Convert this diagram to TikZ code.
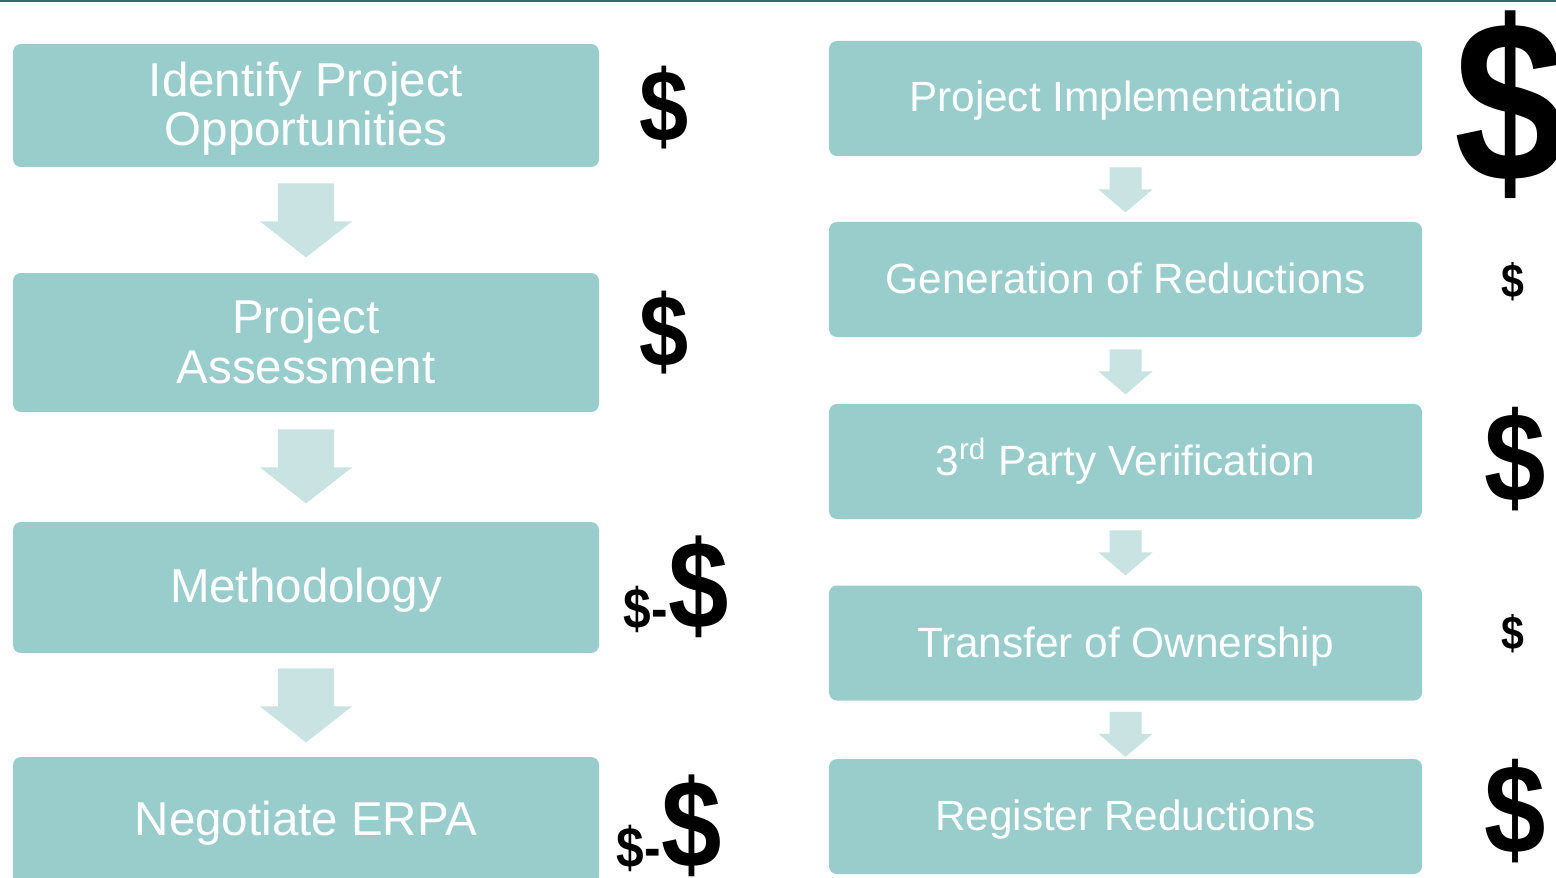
\documentclass[tikz,border=0pt]{standalone}
\usepackage{fontspec}
\setmainfont{Liberation Sans}
\usetikzlibrary{calc}
\definecolor{boxc}{HTML}{99CDCC}
\definecolor{arrc}{HTML}{C8E3E1}
\definecolor{linec}{HTML}{2F6B69}
\newcommand{\narrowdol}[1]{\scalebox{0.87}[1]{#1}}
\begin{document}
\begin{tikzpicture}[x=0.5pt,y=-0.5pt,
 stepbox/.style={fill=boxc, rounded corners=4pt, inner sep=0pt, draw=none},
 lbox/.style={stepbox, minimum width=293pt},
 rbox/.style={stepbox, minimum width=296.5pt, minimum height=57.5pt},
 ltext/.style={text=white, font=\fontsize{23.75}{24.75}\selectfont, align=center, anchor=base, inner sep=0pt},
 rtext/.style={text=white, font=\fontsize{21.15}{24}\selectfont, anchor=base, inner sep=0pt},
 money/.style={font=\bfseries\fontsize{#1}{#1}\selectfont, inner sep=0pt, text=black},
 larrow/.pic={\fill[arrc] (-28,0) -- (28,0) -- (28,38) -- (46,38) -- (0,74) -- (-46,38) -- (-28,38) -- cycle;},
 rarrow/.pic={\fill[arrc] (-16,0) -- (16,0) -- (16,22) -- (27,22) -- (0,45) -- (-27,22) -- (-16,22) -- cycle;},
]
\clip (0,0) rectangle (1556,877);
\fill[white] (0,0) rectangle (1556,877);
\fill[linec] (0,0) rectangle (1556,2);

% left column
\node[lbox, minimum height=61.5pt] (L1) at (306,105.5) {};
\node[lbox, minimum height=69.5pt] (L2) at (306,342.5) {};
\node[lbox, minimum height=65.5pt] (L3) at (306,587.5) {};
\node[lbox, minimum height=70pt] (L4) at (306,827) {};
\node[ltext] (t1) at (306,146) {Identify Project\\Opportunities};
\node[ltext] (t2) at (306,383) {Project\\Assessment};
\node[ltext] (t3) at (306,602) {Methodology};
\node[ltext] (t4) at (306,835) {Negotiate ERPA};
\pic at ($(L1.south)+(0,16)$) {larrow};
\pic at ($(L2.south)+(0,17)$) {larrow};
\pic at ($(L3.south)+(0,15)$) {larrow};

% right column
\node[rbox] (R1) at (1125.5,98.5) {};
\node[rbox] (R2) at (1125.5,279.5) {};
\node[rbox] (R3) at (1125.5,461.5) {};
\node[rbox] (R4) at (1125.5,643) {};
\node[rbox] (R5) at (1125.5,816.5) {};
\node[rtext] (u1) at (1125.5,112) {Project Implementation};
\node[rtext] (u2) at (1125.5,293) {Generation of Reductions};
\node[rtext] (u3) at (1125.5,475) {3\textsuperscript{rd} Party Verification};
\node[rtext] (u4) at (1125.5,657) {Transfer of Ownership};
\node[rtext] (u5) at (1125.5,830) {Register Reductions};
\pic at ($(R1.south)+(0,11)$) {rarrow};
\pic at ($(R2.south)+(0,12)$) {rarrow};
\pic at ($(R3.south)+(0,11)$) {rarrow};
\pic at ($(R4.south)+(0,11)$) {rarrow};

% dollar signs
\node[money=50.8] (d1) at (664,108) {\narrowdol{\$}};
\node[money=50.8] (d2) at (664,332.5) {\narrowdol{\$}};
\node[money=62.4] (d3) at (699,586.5) {\narrowdol{\$}};
\node[money=28.5, anchor=base east] (d3s) at (d3.base west) {\narrowdol{\$-}};
\node[money=62.4] (d4) at (692,826) {\narrowdol{\$}};
\node[money=28.5, anchor=base east] (d4s) at (d4.base west) {\narrowdol{\$-}};
\node[money=115] (e1) at (1510,105) {\narrowdol{\$}};
\node[money=23.6] (e2) at (1513,282) {\narrowdol{\$}};
\node[money=63.5] (e3) at (1515,459) {\narrowdol{\$}};
\node[money=23.6] (e4) at (1513,634) {\narrowdol{\$}};
\node[money=63.5] (e5) at (1515,811) {\narrowdol{\$}};
\end{tikzpicture}
\end{document}
